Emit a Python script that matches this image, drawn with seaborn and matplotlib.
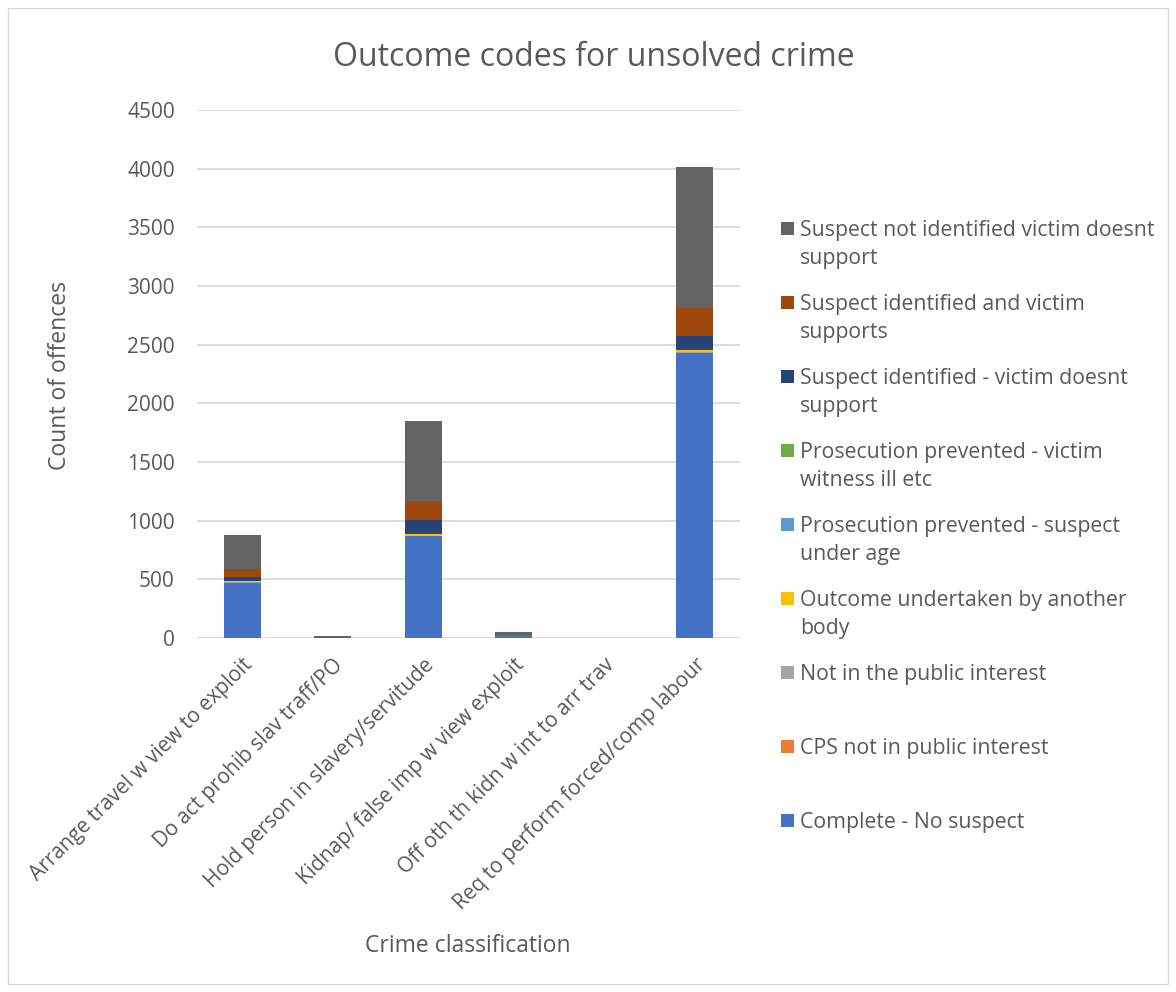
import matplotlib
matplotlib.use("Agg")
import matplotlib.pyplot as plt
from matplotlib.patches import Rectangle
import seaborn as sns
import numpy as np

categories = ["Arrange travel w view to exploit", "Do act prohib slav traff/PO",
              "Hold person in slavery/servitude", "Kidnap/ false imp w view exploit",
              "Off oth th kidn w int to arr trav", "Req to perform forced/comp labour"]

# stacking order bottom -> top
series_names = ["Complete - No suspect", "CPS not in public interest", "Not in the public interest",
                "Outcome undertaken by another body", "Prosecution prevented - suspect under age",
                "Prosecution prevented - victim witness ill etc",
                "Suspect identified - victim doesnt support", "Suspect identified and victim supports",
                "Suspect not identified victim doesnt support"]
legend_labels = ["Complete - No suspect", "CPS not in public interest", "Not in the public interest",
                 "Outcome undertaken by another\nbody", "Prosecution prevented - suspect\nunder age",
                 "Prosecution prevented - victim\nwitness ill etc",
                 "Suspect identified - victim doesnt\nsupport", "Suspect identified and victim\nsupports",
                 "Suspect not identified victim doesnt\nsupport"]

complete_no_suspect = [471, 3, 866, 25, 0, 2432]
cps_not_public = [0, 0, 0, 0, 0, 0]
not_public_interest = [4, 0, 4, 0, 0, 4]
outcome_other_body = [13, 0, 16, 0, 0, 16]
pros_under_age = [0, 0, 0, 0, 0, 0]
pros_victim_ill = [0, 0, 0, 0, 0, 0]
susp_id_victim_not = [32, 0, 117, 0, 0, 122]
susp_id_victim_supports = [65, 0, 168, 0, 0, 241]
susp_not_identified = [295, 17, 676, 22, 0, 1195]

series_values = [complete_no_suspect, cps_not_public, not_public_interest, outcome_other_body,
                 pros_under_age, pros_victim_ill, susp_id_victim_not, susp_id_victim_supports,
                 susp_not_identified]
colors = ["#4472C4", "#ED7D31", "#A5A5A5", "#FFC000", "#5B9BD5", "#70AD47",
          "#264478", "#9E480E", "#636363"]

yticks = [0, 500, 1000, 1500, 2000, 2500, 3000, 3500, 4000, 4500]

sns.set_style("white")
plt.rcParams['font.family'] = ['Open Sans', 'DejaVu Sans']
txt = "#595959"

fig = plt.figure(figsize=(11.76, 9.92), dpi=100)
W, H = 1176, 992
ax = fig.add_axes([197 / W, 1 - 638 / H, (740 - 197) / W, (638 - 110) / H])

bottom = np.zeros(len(categories))
for name, vals, c in zip(series_names, series_values, colors):
    sns.barplot(x=categories, y=vals, bottom=bottom, color=c, width=0.41, saturation=1,
                errorbar=None, ax=ax, edgecolor="none", linewidth=0, zorder=3)
    bottom = bottom + np.array(vals)

ax.set_ylim(0, 4500)
ax.set_yticks(yticks)
ax.set_yticklabels([str(t) for t in yticks], fontsize=15, color=txt)
ax.yaxis.grid(True, color="#D9D9D9", linewidth=1.3, zorder=0)
ax.set_axisbelow(True)
for s in ax.spines.values():
    s.set_visible(False)
ax.tick_params(axis="y", length=0, pad=16)
ax.set_xticks(range(len(categories)))
ax.set_xticklabels(categories, rotation=45, ha="right", rotation_mode="anchor",
                   fontsize=15, color=txt)
ax.tick_params(axis="x", length=0, pad=12)
ax.set_xlim(-0.5, len(categories) - 0.5)
ax.set_xlabel("")
ax.set_ylabel("")

fig.text(594 / W, 1 - 57 / H, "Outcome codes for unsolved crime", ha="center", va="center",
         fontsize=23, color=txt)
fig.text(60 / W, 1 - 375 / H, "Count of offences", ha="center", va="center",
         rotation=90, fontsize=16.5, color=txt)
fig.text(468 / W, 1 - 946 / H, "Crime classification", ha="center", va="center",
         fontsize=16.5, color=txt)

# legend (top -> bottom); first-line centres
leg_y = [228, 302, 376, 450, 524, 598, 672, 746, 820]
for i, (lab, c) in enumerate(zip(legend_labels[::-1], colors[::-1])):
    y = leg_y[i]
    fig.patches.append(Rectangle((781 / W, 1 - (y + 7) / H), 13 / W, 13 / H,
                                 transform=fig.transFigure, facecolor=c, edgecolor="none"))
    for k, line in enumerate(lab.split("\n")):
        fig.text(800 / W, 1 - (y + 8 + 28 * k) / H, line, ha="left", va="baseline",
                 fontsize=15.3, color=txt)

fig.patches.append(Rectangle((8 / W, 8 / H), (W - 16) / W, (H - 16) / H,
                             transform=fig.transFigure, facecolor="none",
                             edgecolor="#D9D9D9", linewidth=1))

fig.savefig("out.png", dpi=100, facecolor="white")
